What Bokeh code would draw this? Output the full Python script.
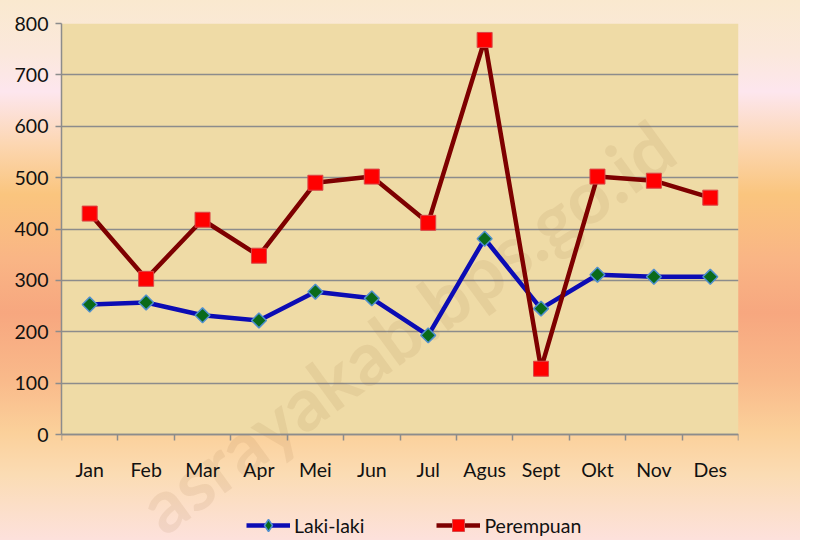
import math
from bokeh.plotting import figure
from bokeh.models import FixedTicker, Legend, LegendItem, Label, ColumnDataSource, BoxAnnotation
from bokeh.embed import file_html
from bokeh.resources import INLINE

# ---- data ----
months = ["Jan", "Feb", "Mar", "Apr", "Mei", "Jun", "Jul", "Agus", "Sept", "Okt", "Nov", "Des"]
laki_laki = [253, 257, 232, 222, 278, 265, 193, 381, 245, 311, 307, 307]
perempuan = [430, 303, 418, 348, 490, 502, 412, 768, 128, 502, 494, 461]
y_ticks = [0, 100, 200, 300, 400, 500, 600, 700, 800]
y_min, y_max = 0, 800

FONT = "Lato"
FS = "19.5px"

# layout (pixels)
W, H = 800, 540
TOP, LEFT, RIGHT = 23, 61, 62
PLOT_H = 411                      # pixel height of the 0..800 plotting area
below_px = H - TOP - PLOT_H       # space below the value axis (labels + legend)
y_lo = y_min - below_px * (y_max - y_min) / PLOT_H

xs = [i + 0.5 for i in range(len(months))]
src = ColumnDataSource(dict(x=xs, laki=laki_laki, per=perempuan))
proxy = ColumnDataSource(dict(x=xs, y=[float("nan")] * len(xs)))

p = figure(width=W, height=H, output_backend="svg", toolbar_location=None,
           x_range=(0, len(months)), y_range=(y_lo, y_max),
           min_border_left=LEFT, min_border_right=RIGHT, min_border_top=TOP, min_border_bottom=0)

p.border_fill_color = None
p.background_fill_color = None
p.outline_line_color = None
p.styles = {
    "background": "linear-gradient(180deg, #fae9cf 0%, #fbe8dc 10%, #fde6ee 17%, #fcd6b0 27%, "
                  "#fac57e 36%, #f9b585 48%, #f7a77f 58%, #f9b98a 70%, #fbd09a 80%, "
                  "#fbdcb4 88%, #fde1dc 100%)",
}

# papyrus plotting area
p.add_layout(BoxAnnotation(bottom=y_min, top=y_max, fill_color="#efdba6", fill_alpha=1,
                           line_color=None, level="image"))

# grid
p.xgrid.grid_line_color = None
p.ygrid.ticker = FixedTicker(ticks=y_ticks)
p.ygrid.grid_line_color = "#8c8c8c"
p.ygrid.grid_line_width = 1.5

# y axis
p.yaxis.ticker = FixedTicker(ticks=y_ticks)
p.yaxis.bounds = (y_min, y_max)
p.yaxis.axis_line_color = "#8c8c8c"
p.yaxis.axis_line_width = 1.5
p.yaxis.major_tick_line_color = "#8c8c8c"
p.yaxis.major_tick_line_width = 1.5
p.yaxis.major_tick_in = 0
p.yaxis.major_tick_out = 6
p.yaxis.minor_tick_line_color = None
p.yaxis.major_label_standoff = 7

# x axis: labels at centers, ticks at boundaries, drawn at y=0
p.xaxis.fixed_location = y_min
p.xaxis.ticker = FixedTicker(ticks=xs, minor_ticks=list(range(len(months) + 1)))
p.xaxis.major_label_overrides = {x: m for x, m in zip(xs, months)}
p.xaxis.major_tick_line_color = None
p.xaxis.minor_tick_line_color = "#8c8c8c"
p.xaxis.minor_tick_line_width = 1.5
p.xaxis.minor_tick_in = 0
p.xaxis.minor_tick_out = 6
p.xaxis.axis_line_color = "#8c8c8c"
p.xaxis.axis_line_width = 1.5
p.xaxis.major_label_standoff = 17

for ax in (p.xaxis[0], p.yaxis[0]):
    ax.major_label_text_font = FONT
    ax.major_label_text_font_size = FS
    ax.major_label_text_color = "#111111"

# watermark
wm = Label(x=603, y=403, x_units="screen", y_units="screen", text="asrayakab.bps.go.id",
           angle=0.63, text_align="right", text_baseline="middle",
           text_font=FONT, text_font_style="bold", text_font_size="74px",
           text_color="#9a7040", text_alpha=0.11, level="underlay")
p.add_layout(wm)

# series
l1 = p.line("x", "laki", source=src, line_color="#0c0cb4", line_width=4.5)
m1 = p.scatter("x", "laki", source=src, marker="square", size=10.5, angle=math.pi / 4,
               fill_color="#0a6a1a", line_color="#4f8fcf", line_width=1.5)
m1_leg = p.scatter("x", "y", source=proxy, marker="diamond",
                   fill_color="#0a6a1a", line_color="#4f8fcf", line_width=1.5)
l2 = p.line("x", "per", source=src, line_color="#7e0000", line_width=4.5)
m2 = p.scatter("x", "per", source=src, marker="square", size=15,
               fill_color="#ff0000", line_color="#d84848", line_width=1)

legend = Legend(items=[LegendItem(label="Laki-laki", renderers=[l1, m1_leg]),
                       LegendItem(label="Perempuan", renderers=[l2, m2])],
                orientation="horizontal", location=(185, 0),
                glyph_width=44, glyph_height=30, label_standoff=4, spacing=72,
                padding=0, margin=0, background_fill_alpha=0, border_line_color=None,
                label_text_font=FONT, label_text_font_size=FS, label_text_color="#111111")
p.add_layout(legend)

open("out.html", "w").write(file_html(p, INLINE))
